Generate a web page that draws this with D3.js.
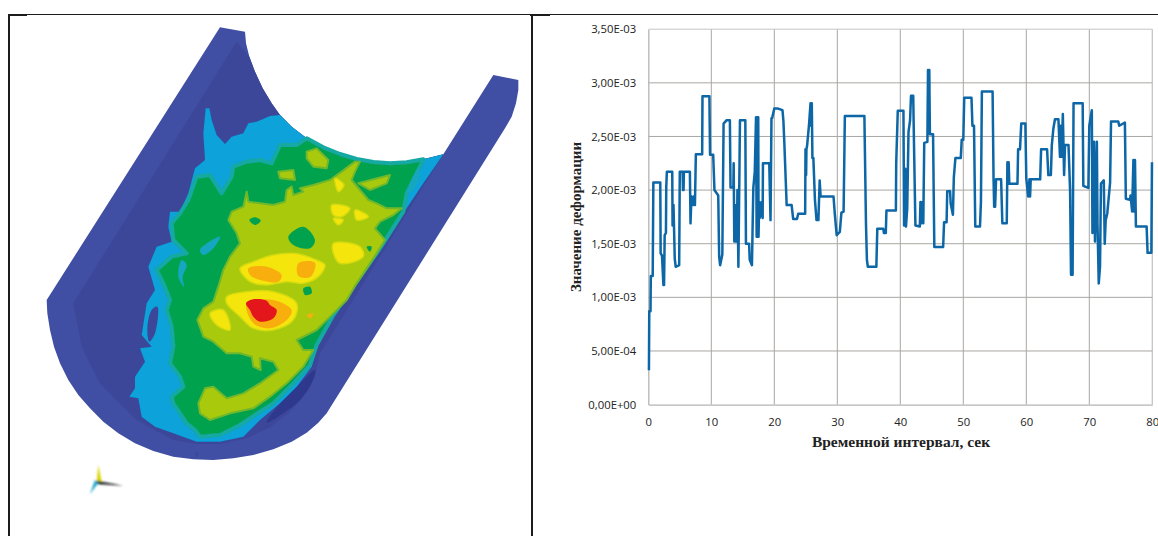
<!DOCTYPE html>
<html><head><meta charset="utf-8">
<script src="https://cdn.jsdelivr.net/npm/d3@7/dist/d3.min.js"></script>
<style>html,body{margin:0;padding:0;background:#fff;overflow:hidden}</style>
</head><body><svg id="c" width="1158" height="536"></svg>
<script>
// --- chart data (seconds, strain x 1e-3) ---
const times = [0.1,0.15,0.35,0.4,0.7,0.8,1.9,1.96,2.17,2.4,2.5,2.6,2.8,2.85,2.95,3.8,3.85,4.0,4.2,4.35,4.9,5.0,5.45,5.5,5.6,5.65,5.8,5.85,6.6,6.7,6.85,7.1,7.2,7.4,7.55,7.65,8.55,8.6,9.7,9.8,10.3,10.5,11.1,11.25,11.4,11.75,11.95,12.4,12.95,13.05,13.5,13.55,13.65,13.75,13.85,13.95,14.05,14.15,14.3,14.55,15.4,15.5,16.0,16.1,16.45,16.67,16.9,17.1,17.2,17.3,17.35,17.45,17.5,17.6,17.7,18.0,18.15,18.2,19.2,19.4,19.55,19.65,20.0,20.6,21.3,21.45,21.6,21.96,22.75,23.0,23.6,23.8,24.9,24.95,25.05,25.1,25.2,25.5,25.75,25.85,25.95,26.05,26.2,26.45,26.7,27.0,27.2,27.35,27.45,29.4,29.6,29.9,30.4,30.65,31.0,31.2,34.3,34.55,34.7,34.85,36.2,36.35,37.3,37.4,37.7,37.8,39.3,39.35,39.6,40.5,40.6,40.8,40.9,41.1,41.3,41.55,41.7,42.05,42.2,42.4,43.1,43.2,43.35,43.55,43.65,43.8,44.3,44.4,44.5,44.6,44.7,44.8,45.2,45.4,46.8,46.95,47.35,47.45,47.9,48.0,48.35,48.5,48.75,49.6,49.75,50.0,50.15,51.3,51.45,51.7,51.9,52.65,52.8,52.95,54.65,54.8,54.9,55.05,55.2,56.0,56.2,56.9,57.0,57.1,57.2,57.3,58.6,58.7,59.0,59.2,59.85,60.0,60.3,60.5,60.6,60.7,62.2,62.35,63.3,63.5,63.9,64.05,64.3,64.55,65.1,65.35,65.45,65.6,65.8,66.0,66.15,66.7,66.95,67.1,67.35,67.5,68.95,69.05,69.85,70.0,70.4,70.5,70.75,70.9,71.2,71.3,71.5,71.7,71.85,72.3,72.45,72.6,72.85,73.3,73.45,74.6,74.75,75.65,75.8,76.45,76.55,76.8,77.0,77.1,77.25,77.4,79.1,79.25,79.85,79.95];
const values = [0.32,0.87,0.87,1.2,1.2,2.07,2.07,1.41,1.39,1.115,1.115,1.58,1.6,2.03,2.17,2.17,1.67,1.86,1.36,1.285,1.30,2.17,2.17,2.0,2.0,2.17,2.17,2.17,2.17,1.69,1.94,1.86,1.94,1.86,2.335,2.335,2.335,2.875,2.875,2.33,2.33,2.0,1.95,1.38,1.3,1.4,2.62,2.65,2.65,2.025,2.025,2.25,1.52,1.86,1.52,1.86,1.52,2.0,1.285,2.65,2.65,1.5,1.5,1.35,1.3,2.02,2.17,2.68,1.565,2.68,1.565,2.68,1.565,1.89,1.74,1.89,1.74,2.25,2.25,1.72,2.67,2.67,2.76,2.76,2.745,2.64,2.43,1.86,1.86,1.73,1.73,1.78,1.78,2.38,2.14,2.38,2.41,2.6,2.81,2.6,2.81,2.3,2.3,1.91,1.72,1.72,2.09,1.94,1.94,1.94,1.78,1.58,1.61,1.79,1.8,2.69,2.69,1.69,1.35,1.285,1.285,1.64,1.64,1.6,1.6,1.81,1.81,2.25,2.74,2.74,1.67,2.2,1.66,1.83,2.54,2.65,2.88,2.88,2.34,1.67,1.66,1.89,1.69,1.89,1.69,2.44,2.45,3.12,2.53,3.12,2.52,2.52,2.52,1.47,1.47,1.7,1.7,1.99,1.99,1.875,1.77,2.12,2.3,2.3,2.47,2.47,2.86,2.86,2.6,2.6,1.66,1.66,1.89,2.92,2.92,2.11,1.845,1.845,2.1,2.1,1.69,1.69,2.26,2.06,2.26,2.06,2.06,2.38,2.38,2.62,2.62,2.11,1.94,2.1,1.94,2.1,2.1,2.38,2.38,2.14,2.14,2.42,2.575,2.66,2.66,2.31,2.6,2.31,2.71,2.14,2.42,2.42,2.0,1.21,1.21,2.81,2.81,2.04,2.02,2.6,2.745,1.6,2.45,1.52,2.45,1.69,1.13,1.285,2.06,2.09,1.5,1.72,1.78,2.07,2.64,2.64,2.6,2.63,1.92,1.91,1.95,1.8,2.28,1.8,2.28,1.66,1.66,1.415,1.415,2.26];
const xTicks = [0,10,20,30,40,50,60,70,80];
const yTicks = [0,0.5,1,1.5,2,2.5,3,3.5];
const yTickLabels = ["0,00E+00","5,00E-04","1,00E-03","1,50E-03","2,00E-03","2,50E-03","3,00E-03","3,50E-03"];
const xTitle = "Временной интервал, сек";
const yTitle = "Значение деформации";

// --- contour picture outlines (picture units) ---
const topArc = [[615,35],[618,70],[628,110],[645,155],[668,205],[695,250],[720,285],[755,320],[800,355],[850,382],[900,402],[950,417],[1000,426],[1050,430],[1100,427],[1150,418],[1210,403]];
const bodyOutline = [[540,22],...topArc,[1360,165],[1435,180],[1435,210],[1428,250],[1415,290],[1395,325],[860,1180],[835,1208],[800,1238],[755,1265],[700,1288],[640,1305],[580,1315],[520,1320],[460,1318],[400,1310],[340,1293],[285,1270],[235,1240],[190,1205],[150,1165],[115,1125],[85,1080],[60,1030],[42,980],[30,930],[22,880],[20,840]];
const channelOutline = [[100,850],[590,65],...topArc.slice(2),[840,1000],[825,1070],[790,1130],[745,1180],[690,1222],[620,1255],[540,1272],[470,1272],[400,1260],[290,1200],[180,1090],[125,980]];
const shadowOutline = [[825,1050],[815,1090],[780,1140],[730,1180],[680,1208],[720,1150],[770,1100]];
const cyanOutline = [[497,265],[508,265],[515,300],[530,345],[555,372],[575,350],[610,340],[625,310],[650,305],[690,288],...topArc.slice(6),[1150,490],[1090,580],[1020,690],[950,790],[880,890],[830,980],[815,1040],[770,1100],[720,1150],[660,1200],[610,1250],[540,1265],[470,1265],[400,1240],[345,1220],[305,1190],[295,1135],[268,1130],[285,1105],[285,1070],[315,1025],[300,985],[335,980],[305,945],[320,850],[345,810],[325,740],[350,680],[395,665],[385,620],[390,575],[420,575],[445,520],[465,445],[495,420],[490,340]];
const greenOutline = [[470,470],[510,465],[545,520],[575,470],[580,440],[620,425],[660,420],[695,430],[720,375],[770,375],...topArc.slice(8,16),[1140,440],[1100,520],[1090,575],[1020,685],[950,785],[880,885],[830,975],[810,1035],[760,1090],[700,1150],[660,1175],[600,1215],[540,1245],[480,1250],[465,1230],[440,1210],[400,1150],[395,1130],[430,1100],[420,1070],[390,1030],[400,980],[395,920],[380,870],[390,840],[370,790],[350,750],[395,710],[440,700],[400,660],[395,610],[420,580],[445,540]];
const cyanStreaks = [[[1135,445],[1115,480],[1100,520],[1120,510],[1140,465]],[[480,690],[540,650],[520,685],[490,705]],[[425,720],[440,735],[428,770],[432,800],[415,770]]];
const channelStreaks = [[[335,870],[352,860],[345,940],[328,965],[322,925]],[[465,1298],[475,1298],[470,1312]]];
const limeOutlines = [
 [[620,515],[625,545],[660,550],[700,555],[735,545],[740,510],[755,500],[760,525],[790,515],[780,505],[820,495],[870,480],[905,455],[945,425],[960,425],[945,455],[935,480],[960,510],[985,540],[1010,550],[1040,565],[1085,565],[1060,585],[1020,605],[1005,625],[1035,660],[1010,700],[980,745],[950,790],[920,840],[880,880],[830,930],[770,960],[790,990],[820,990],[790,1040],[740,1090],[690,1130],[640,1165],[570,1180],[510,1200],[480,1180],[475,1150],[495,1105],[520,1100],[560,1135],[610,1120],[660,1090],[715,1050],[700,1025],[660,1015],[662,1050],[640,1040],[635,1010],[600,1000],[560,1000],[520,965],[490,950],[472,900],[490,865],[520,845],[535,800],[550,750],[570,710],[600,670],[590,640],[565,600],[575,575],[610,560]],
 [[800,395],[830,385],[865,420],[860,445],[820,440],[800,415]],
 [[715,455],[760,450],[765,480],[720,475]],
 [[955,490],[1050,465],[1040,490],[990,510]]
];
const greenHoles = [
 [[745,650],[790,620],[825,660],[810,685],[760,675]],
 [[628,600],[645,592],[662,602],[645,615]],
 [[790,805],[810,800],[815,820],[795,825]],
 [[980,680],[995,680],[990,695]]
];
const yellowOutlines = [
 [[600,745],[640,725],[700,705],[760,700],[830,720],[855,735],[835,770],[790,790],[740,785],[680,795],[630,785]],
 [[560,830],[620,815],[700,815],[770,850],[760,900],[700,930],[640,925],[600,890],[560,850]],
 [[510,880],[550,870],[570,930],[530,915]],
 [[885,475],[912,495],[895,515]],
 [[875,555],[930,565],[905,590],[880,585]],
 [[945,570],[985,590],[950,600]],
 [[880,595],[910,600],[895,615]],
 [[880,670],[960,680],[970,710],[900,730],[880,700]]
];
const orangeOutlines = [
 [[625,745],[680,740],[725,765],[715,785],[660,780],[630,765]],
 [[775,730],[825,728],[812,770],[775,768]],
 [[620,850],[700,840],[755,870],[740,900],[690,925],[640,910]],
 [[800,885],[820,880],[812,895]]
];
const redOutline = [[618,850],[640,838],[680,842],[690,855],[710,870],[700,895],[660,905],[640,890],[630,870]];
const triadYellow = [[175,1335],[185,1385],[170,1385]];
const triadBlack = [[170,1382],[250,1397],[170,1392]];
const triadCyan = [[165,1380],[175,1388],[150,1422]];
// frame rules, as [x1,y1,x2,y2,width]
const frameRules = [[8,14.5,1158,14.5,1],[8,15,27,15,2],[530,15,550,15,2],[9,14,9,536,2],[532,14,532,536,2]];

const svg = d3.select("#c");
const defs = svg.append("defs");
defs.append("filter").attr("id","soft").append("feGaussianBlur").attr("stdDeviation",0.9);
defs.append("filter").attr("id","soft2").append("feGaussianBlur").attr("stdDeviation",0.35);
defs.append("filter").attr("id","soft3").append("feGaussianBlur").attr("stdDeviation",0.7);

// frame
svg.append("g").selectAll("line").data(frameRules).join("line")
  .attr("x1",d=>d[0]).attr("y1",d=>d[1]).attr("x2",d=>d[2]).attr("y2",d=>d[3])
  .attr("stroke","#1c1c1c").attr("stroke-width",d=>d[4]);

// contour picture
const px = d3.scaleLinear().domain([0,1470]).range([40,530]);
const py = d3.scaleLinear().domain([0,1440]).range([20,500]);
const poly = d3.line().x(d=>px(d[0])).y(d=>py(d[1])).curve(d3.curveCatmullRomClosed.alpha(0.5));
const polySharp = d3.line().x(d=>px(d[0])).y(d=>py(d[1])).curve(d3.curveLinearClosed);
const base = svg.append("g").attr("filter","url(#soft2)");
const pic = svg.append("g").attr("filter","url(#soft3)");
function layer(root,list,color,gen,edge,w){const s=root.append("g").selectAll("path").data(list).join("path").attr("d",gen||poly).attr("fill",color);
  if(edge) s.attr("stroke",edge).attr("stroke-width",w).attr("stroke-linejoin","round");}
layer(base,[bodyOutline],"#3f4fa3",polySharp);
layer(base,[channelOutline],"#3c4799",polySharp);
layer(base,[shadowOutline],"#2f398c");
layer(pic,[cyanOutline],"#08a2da",polySharp);
layer(pic,channelStreaks,"#3c4799");
layer(pic,[greenOutline],"#06a24e",polySharp,"#12a8a2",4);
layer(pic,cyanStreaks,"#14a7c0");
layer(pic,limeOutlines,"#a9c910",polySharp,"#6fb82c",2);
layer(pic,greenHoles,"#06a24e");
layer(pic,yellowOutlines,"#f4e60a",null,"#d4da0c",1.5);
layer(pic,orangeOutlines,"#f8ae0c");
layer(pic,[redOutline],"#e3141c");
const triad = svg.append("g").attr("filter","url(#soft)");
triad.append("path").datum(triadYellow).attr("d",polySharp).attr("fill","#d9d400");
triad.append("path").datum(triadBlack).attr("d",polySharp).attr("fill","#111");
triad.append("path").datum(triadCyan).attr("d",polySharp).attr("fill","#1ba3c9");

// line chart
const x = d3.scaleLinear().domain([0,80]).range([648.3,1152.3]);
const y = d3.scaleLinear().domain([0,3.5]).range([404.6,29.2]);
const font = "'Open Sans','Noto Sans',sans-serif";
const grid = svg.append("g");
grid.selectAll("line.v").data(xTicks.slice(1)).join("line").attr("class","v")
  .attr("x1",d=>x(d)).attr("x2",d=>x(d)).attr("y1",y(3.5)).attr("y2",y(0))
  .attr("stroke",d=>d===80?"#c6c6c6":"#a9a7a3").attr("stroke-width",d=>d===80?1.3:1);
grid.selectAll("line.h").data(yTicks.slice(1)).join("line").attr("class","h")
  .attr("x1",x(0)).attr("x2",x(80)).attr("y1",d=>y(d)).attr("y2",d=>y(d))
  .attr("stroke",d=>d===3.5?"#c6c6c6":"#a9a7a3").attr("stroke-width",1);

const gx = svg.append("g").attr("transform",`translate(0,${y(0)})`)
  .call(d3.axisBottom(x).tickValues(xTicks).tickSize(0).tickPadding(13).tickFormat(d3.format("d")));
const gy = svg.append("g").attr("transform",`translate(${x(0)},0)`)
  .call(d3.axisLeft(y).tickValues(yTicks).tickSize(0).tickPadding(12).tickFormat((d,i)=>yTickLabels[i]));
[gx,gy].forEach(g=>{
  g.selectAll("path.domain").attr("stroke","#b4b4b4").attr("stroke-width",1.3);
  g.selectAll("text").attr("font-family",font).attr("font-size",11.3).attr("fill","#222");
});

const pts = times.map((t,i)=>[t,values[i]]);
svg.append("path").datum(pts).attr("fill","none").attr("stroke","#0a66a6").attr("stroke-width",2.5)
  .attr("stroke-linejoin","round")
  .attr("d",d3.line().x(d=>x(d[0])).y(d=>y(d[1])))
  .attr("filter","url(#soft2)");

svg.append("text").attr("x",901).attr("y",447).attr("text-anchor","middle")
  .attr("font-family","'Liberation Serif',serif").attr("font-weight","bold").attr("font-size",15.5)
  .attr("fill","#222").text(xTitle);
svg.append("text").attr("transform","translate(581,217) rotate(-90)").attr("text-anchor","middle")
  .attr("font-family","'Liberation Serif',serif").attr("font-weight","bold").attr("font-size",15)
  .attr("fill","#222").text(yTitle);
</script></body></html>
